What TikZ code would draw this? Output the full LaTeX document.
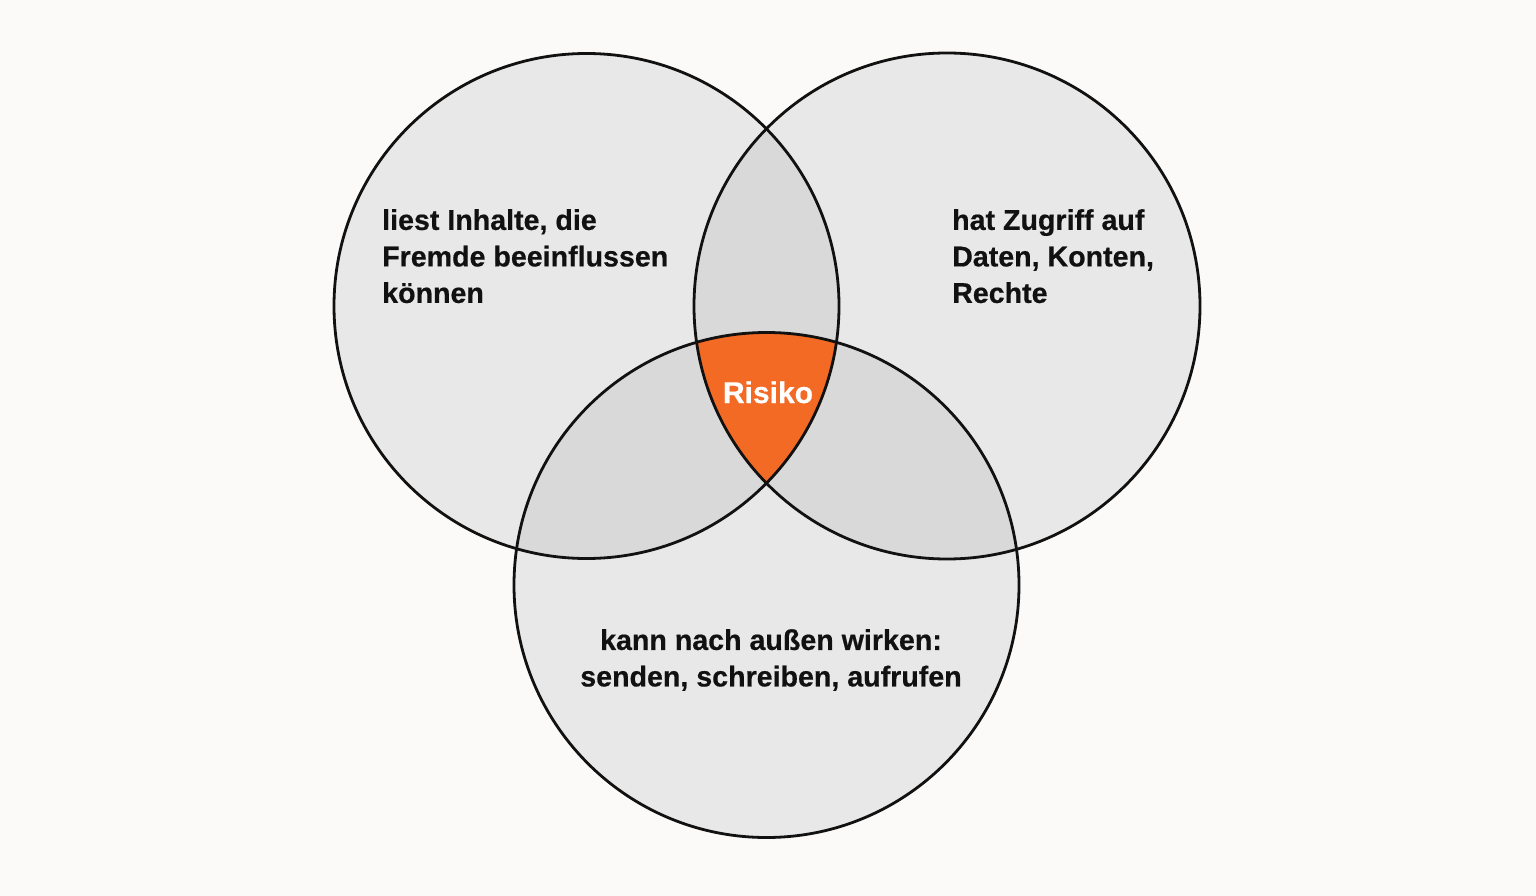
\documentclass[tikz,border=0pt]{standalone}
\usepackage{fontspec}
\setmainfont{Liberation Sans}[BoldFeatures={FakeBold=0.5}]
\definecolor{bg}{HTML}{FCFAF8}
\definecolor{single}{HTML}{E8E8E8}
\definecolor{pair}{HTML}{D9D9D9}
\definecolor{risk}{HTML}{F26A24}
\definecolor{ink}{HTML}{111111}
\begin{document}
\begin{tikzpicture}[x=1pt,y=-1pt,
  lbl/.style={inner sep=0pt, text=ink, font=\fontsize{28.6}{36.5}\selectfont\bfseries},
  ring/.style={draw=ink, line width=2.8pt}]
\fill[bg] (0,0) rectangle (1536,896);
\useasboundingbox (0,0) rectangle (1536,896);
\def\cA{(586.5,306) circle[radius=252.5pt]}
\def\cB{(947,306) circle[radius=253pt]}
\def\cC{(766.5,585) circle[radius=252.5pt]}
% single fills
\fill[single] \cA; \fill[single] \cB; \fill[single] \cC;
% pairwise
\begin{scope}\clip \cA; \fill[pair] \cB; \fill[pair] \cC;\end{scope}
\begin{scope}\clip \cB; \fill[pair] \cC;\end{scope}
% triple
\begin{scope}\clip \cA; \clip \cB; \fill[risk] \cC;\end{scope}
% outlines
\draw[ring] \cA; \draw[ring] \cB; \draw[ring] \cC;
\node[lbl, anchor=north west, align=left] (left) at (382,209) {liest Inhalte, die\\Fremde beeinflussen\\können};
\node[lbl, anchor=north west, align=left] (right) at (952,209) {hat Zugriff auf\\Daten, Konten,\\Rechte};
\node[lbl, anchor=north, align=center] (bottom) at (771,629) {kann nach außen wirken:\\senden, schreiben, aufrufen};
\node[inner sep=0pt, text=white, font=\fontsize{30}{34}\selectfont\bfseries, anchor=base] (risk) at (768,403) {Risiko};
\end{tikzpicture}
\end{document}
